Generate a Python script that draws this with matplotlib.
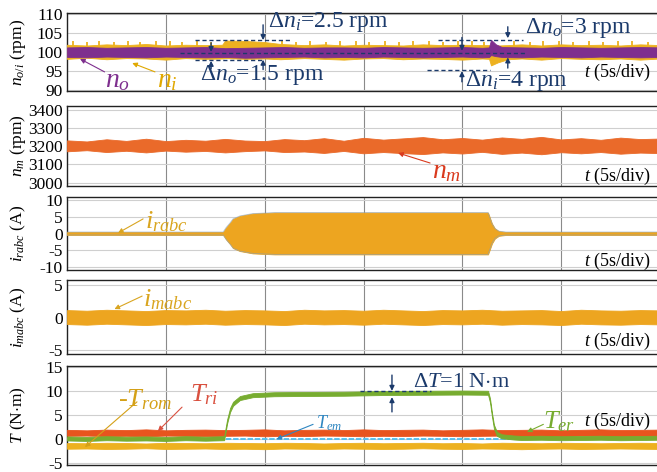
import numpy as np
import matplotlib
matplotlib.use('Agg')
import matplotlib.pyplot as plt

plt.rcParams['font.family'] = ['Liberation Serif', 'DejaVu Serif']
plt.rcParams['mathtext.fontset'] = 'custom'
plt.rcParams['mathtext.rm'] = 'Liberation Serif'
plt.rcParams['mathtext.it'] = 'Liberation Serif:italic'
plt.rcParams['mathtext.bf'] = 'Liberation Serif:bold'

# ---------------- data ----------------
# panel 1 : n_i (input speed) envelope
t_ni = [0, 1, 2, 3, 4, 5, 6, 7, 7.85, 8.0, 9.0, 10.0, 10.8, 12, 13, 14, 15, 16, 17, 18,
        19, 20, 21, 21.35, 21.45, 21.8, 22.3, 23, 24, 25, 26, 27, 28, 29, 30]
ni_hi = [101.9, 101.7, 102.0, 101.8, 102.1, 101.7, 101.9, 101.8, 101.9, 103.0, 102.9, 102.6,
         102.1, 101.8, 102.0, 101.7, 101.9, 101.8, 101.7, 102.0, 101.8, 101.9, 101.8, 101.8,
         101.6, 101.7, 101.8, 102.0, 101.7, 102.0, 101.8, 101.9, 101.7, 102.0, 101.8]
ni_lo = [98.2, 98.5, 98.1, 98.4, 98.3, 98.0, 98.4, 98.2, 98.3, 98.4, 98.2, 98.3, 98.1, 98.4,
         98.2, 98.0, 98.3, 98.4, 98.1, 98.3, 98.2, 98.0, 98.3, 98.2, 96.5, 97.3, 98.1, 98.3,
         98.0, 98.4, 98.2, 98.1, 98.3, 98.0, 98.3]
# n_i upward noise spikes
ni_spk_t = [0.3, 1.0, 1.6, 2.4, 3.1, 3.7, 4.5, 5.2, 5.8, 6.6, 7.3, 10.9, 11.6, 12.3, 13.1,
            13.8, 14.6, 15.3, 16.1, 16.8, 17.5, 18.3, 19.0, 19.8, 20.5, 21.1, 22.6, 23.4,
            24.1, 24.9, 25.6, 26.4, 27.1, 27.9, 28.6, 29.4]
ni_spk_v = [102.8, 102.6, 103.0, 102.7, 102.9, 102.6, 102.8, 103.0, 102.7, 102.9, 102.6,
            102.9, 102.7, 103.0, 102.6, 102.8, 102.9, 102.7, 103.0, 102.6, 102.8, 102.9,
            102.7, 103.0, 102.8, 102.6, 102.9, 102.7, 103.0, 102.8, 102.6, 102.9, 102.7,
            103.0, 102.8, 102.7]
# panel 1 : n_o (output speed) envelope
t_no = [0, 1, 2, 3, 4, 5, 6, 7, 8, 9, 10, 11, 12, 13, 14, 15, 16, 17, 18, 19, 20, 21,
        21.35, 21.45, 21.7, 22.0, 23, 24, 25, 26, 27, 28, 29, 30]
no_hi = [101.2, 101.3, 101.1, 101.2, 101.3, 101.1, 101.2, 101.3, 101.0, 101.1, 101.2, 101.3,
         101.1, 101.2, 101.2, 101.1, 101.3, 101.2, 101.1, 101.2, 101.3, 101.1,
         101.2, 103.2, 102.0, 101.3, 101.2, 101.1, 101.3, 101.2, 101.1, 101.2, 101.3, 101.2]
no_lo = [98.7, 98.6, 98.8, 98.7, 98.6, 98.8, 98.7, 98.6, 98.7, 98.5, 98.6, 98.7, 98.8, 98.6,
         98.7, 98.6, 98.8, 98.7, 98.6, 98.7, 98.8, 98.6,
         98.7, 99.2, 98.9, 98.7, 98.6, 98.8, 98.7, 98.6, 98.8, 98.7, 98.6, 98.7]

# panel 2 : n_m
t_sec = list(range(31))
nm_hi = [3232, 3226, 3238, 3229, 3241, 3228, 3235, 3230, 3240, 3231, 3228, 3239, 3233, 3244,
         3230, 3246, 3236, 3243, 3250, 3238, 3245, 3236, 3248, 3240, 3251, 3237, 3244, 3235,
         3247, 3239, 3242]
nm_lo = [3172, 3178, 3168, 3175, 3166, 3176, 3170, 3174, 3166, 3173, 3177, 3168, 3171, 3163,
         3174, 3161, 3168, 3162, 3157, 3166, 3160, 3169, 3158, 3165, 3156, 3167, 3161, 3168,
         3159, 3165, 3162]

# panel 3 : i_rabc envelope amplitude
t_ir = [0, 7.9, 8.05, 8.25, 8.4, 8.75, 9.4, 10.5, 14, 18, 21.3, 21.38, 21.5, 21.65, 21.85,
        22.2, 30]
ir_amp = [0.45, 0.45, 1.8, 3.2, 4.4, 5.3, 6.0, 6.3, 6.3, 6.3, 6.3, 5.0, 3.0, 1.5, 0.7, 0.45,
          0.45]

# panel 4 : i_mabc
im_hi = [1.15, 1.05, 1.2, 1.1, 1.0, 1.15, 1.1, 1.2, 1.05, 1.15, 1.1, 1.0, 1.2, 1.1, 1.15,
         1.05, 1.2, 1.1, 1.0, 1.15, 1.1, 1.2, 1.05, 1.1, 1.15, 1.0, 1.2, 1.1, 1.05, 1.15, 1.1]
im_lo = [-1.0, -1.1, -0.95, -1.05, -1.15, -1.0, -1.05, -0.95, -1.1, -1.0, -1.05, -1.15,
         -0.95, -1.05, -1.0, -1.1, -0.95, -1.05, -1.15, -1.0, -1.05, -0.95, -1.1, -1.0, -1.05,
         -1.15, -0.95, -1.05, -1.1, -1.0, -1.05]

# panel 5 : torques
tri_hi = [1.85, 1.75, 1.9, 1.8, 1.95, 1.75, 1.85, 1.9, 1.8, 1.85, 1.95, 1.75, 1.85, 1.9,
          1.8, 1.95, 1.8, 1.85, 1.9, 1.75, 1.85, 1.95, 1.8, 1.85, 1.9, 1.75, 1.85, 1.95,
          1.8, 1.85, 1.9]
tri_lo = [0.6, 0.65, 0.55, 0.6, 0.5, 0.65, 0.6, 0.55, 0.6, 0.65, 0.5, 0.6, 0.55, 0.65, 0.6,
          0.5, 0.6, 0.55, 0.65, 0.6, 0.5, 0.6, 0.65, 0.55, 0.6, 0.5, 0.65, 0.6, 0.55, 0.6,
          0.6]
trom_hi = [-0.9, -0.95, -0.85, -0.9, -1.0, -0.85, -0.9, -0.95, -0.85, -0.9, -0.95, -0.85,
           -0.9, -1.0, -0.9, -0.85, -0.95, -0.9, -0.85, -0.95, -0.9, -1.0, -0.85, -0.9,
           -0.95, -0.85, -0.9, -0.95, -0.9, -0.85, -0.9]
trom_lo = [-2.1, -2.05, -2.15, -2.1, -2.0, -2.15, -2.1, -2.05, -2.15, -2.1, -2.2, -2.05,
           -2.1, -2.15, -2.05, -2.1, -2.15, -2.1, -2.0, -2.1, -2.15, -2.05, -2.1, -2.2,
           -2.1, -2.05, -2.15, -2.1, -2.05, -2.1, -2.15]
t_te = [0, 1, 2, 3, 4, 5, 6, 7, 7.95, 8.1, 8.25, 8.4, 8.75, 9.4, 10.5, 12, 14, 16, 18, 20,
        21.3, 21.4, 21.5, 21.6, 21.75, 22.0, 22.6, 23, 24, 25, 26, 27, 28, 29, 30]
te_c = [0.05, -0.05, 0.1, 0.0, 0.05, -0.05, 0.1, 0.0, 0.1, 3.6, 6.0, 7.3, 8.5, 9.1, 9.3,
        9.35, 9.4, 9.55, 9.6, 9.65, 9.6, 8.0, 5.0, 2.5, 1.0, 0.5, 0.25, 0.15, 0.2, 0.1,
        0.15, 0.2, 0.1, 0.15, 0.2]
t_em = [0, 30]
tem_v = [-0.1, -0.1]

# y tick labels of the panels
yt1 = [90, 95, 100, 105, 110]
yt2 = [3000, 3100, 3200, 3300, 3400]
yt3 = [-10, -5, 0, 5, 10]
yt4 = [-5, 0, 5]
yt5 = [-5, 0, 5, 10, 15]

# ---------------- styling ----------------
PURPLE = '#7E2F8E'
YEL = '#EDB120'
ORANGE = '#EA6A2A'
IRAB = '#EDA520'
RED = '#E8541E'
GREEN = '#77AC30'
BLUE = '#4DBEEE'
NAVY = '#1B3A6B'

W, H = 657, 472
fig = plt.figure(figsize=(W / 100, H / 100), dpi=100)


def add_ax(top, bot):
    return fig.add_axes([67 / W, 1 - bot / H, 593 / W, (bot - top) / H])


ax1 = add_ax(13, 91)
ax2 = add_ax(106, 185.5)
ax3 = add_ax(197, 270)
ax4 = add_ax(280, 354)
ax5 = add_ax(366, 465)

# (axis, ylim, yticks, ylabel, vertical axes-fraction of the "t (5s/div)" note)
specs = [(ax1, (89.8, 110.2), yt1, r'$n_{o/i}$ (rpm)', 0.24),
         (ax2, (2985, 3420), yt2, r'$n_m$ (rpm)', 0.12),
         (ax3, (-11, 11), yt3, r'$i_{rabc}$ (A)', 0.12),
         (ax4, (-5.6, 5.77), yt4, r'$i_{mabc}$ (A)', 0.17),
         (ax5, (-5.5, 15.2), yt5, r'$T$ (N$\cdot$m)', 0.435)]
for ax, yl, yt, lab, tpos in specs:
    ax.set_xlim(0, 30)
    ax.set_ylim(*yl)
    ax.set_xticks([5, 10, 15, 20, 25])
    ax.set_xticklabels([])
    ax.set_yticks(yt)
    ax.set_yticklabels([str(v) for v in yt])
    ax.tick_params(axis='both', length=0, labelsize=12.5, pad=3)
    ax.grid(axis='y', color='#cfcfcf', lw=0.8)
    ax.grid(axis='x', color='#8a8a8a', lw=0.8)
    ax.set_axisbelow(True)
    for s in ax.spines.values():
        s.set_linewidth(1.0)
        s.set_color('#222222')
    ax.set_ylabel(lab, fontsize=12.5)
    ax.yaxis.set_label_coords(-0.066, 0.5)
    ax.text(26.15, yl[0] + tpos * (yl[1] - yl[0]), r'$t$ (5s/div)', fontsize=13,
            va='center', ha='left', zorder=10)


def band(ax, t, lo, hi, color, z, lw=0.6):
    ax.fill_between(t, lo, hi, color=color, edgecolor=color, lw=lw, zorder=z)


def arrow(ax, tip, tail, color, lw=0.8, ms=7):
    ax.annotate('', xy=tip, xytext=tail, zorder=12,
                arrowprops=dict(arrowstyle='-|>', color=color, lw=lw,
                                mutation_scale=ms, shrinkA=0, shrinkB=0))


def dash(ax, x0, x1, y):
    ax.plot([x0, x1], [y, y], color=NAVY, lw=1.0, ls=(0, (3, 2)), zorder=11)


# ---- panel 1
band(ax1, t_ni, ni_lo, ni_hi, YEL, 3)
ax1.vlines(ni_spk_t, 101.5, ni_spk_v, color=YEL, lw=1.3, zorder=3)
band(ax1, t_no, no_lo, no_hi, PURPLE, 4)
ax1.text(1.92, 92.6, r'$n_o$', fontsize=20, color=PURPLE, va='center', zorder=10)
ax1.text(4.55, 92.6, r'$n_i$', fontsize=20, color='#E0A800', va='center', zorder=10)
arrow(ax1, (0.66, 98.2), (1.9, 94.8), PURPLE)
arrow(ax1, (3.3, 97.1), (4.45, 94.8), '#E0A800')
dash(ax1, 6.48, 11.28, 103.1)
dash(ax1, 5.72, 23.27, 99.7)
dash(ax1, 6.48, 9.92, 97.9)
dash(ax1, 18.77, 23.07, 103.1)
dash(ax1, 18.2, 21.4, 95.3)
arrow(ax1, (7.29, 100.0), (7.29, 102.4), NAVY, lw=1.0)
arrow(ax1, (7.29, 97.7), (7.29, 95.6), NAVY, lw=1.0)
arrow(ax1, (9.92, 103.1), (9.92, 107.1), NAVY, lw=1.0)
arrow(ax1, (9.92, 98.0), (9.92, 95.4), NAVY, lw=1.0)
arrow(ax1, (19.98, 100.3), (19.98, 103.8), NAVY, lw=1.0)
arrow(ax1, (19.98, 95.0), (19.98, 92.2), NAVY, lw=1.0)
arrow(ax1, (22.3, 103.6), (22.3, 106.6), NAVY, lw=1.0)
arrow(ax1, (22.3, 98.6), (22.3, 95.8), NAVY, lw=1.0)
ax1.text(10.17, 107.8, r'$\Delta n_i$=2.5 rpm', fontsize=17, color=NAVY, va='center', zorder=12)
ax1.text(6.73, 94.0, r'$\Delta n_o$=1.5 rpm', fontsize=17, color=NAVY, va='center', zorder=12)
ax1.text(23.17, 106.4, r'$\Delta n_o$=3 rpm', fontsize=17, color=NAVY, va='center', zorder=12)
ax1.text(20.14, 92.4, r'$\Delta n_i$=4 rpm', fontsize=17, color=NAVY, va='center', zorder=12)

# ---- panel 2
band(ax2, t_sec, nm_lo, nm_hi, ORANGE, 3)
ax2.text(18.47, 3059, r'$n_m$', fontsize=20, color='#D93A1E', va='center', zorder=10)
arrow(ax2, (16.75, 3163), (18.37, 3108), '#D93A1E')

# ---- panel 3
ir_amp_a = np.array(ir_amp)
band(ax3, t_ir, -ir_amp_a, ir_amp_a, IRAB, 3)
ax3.plot(t_ir, ir_amp_a, color='#7f9fc0', lw=0.6, alpha=0.6, zorder=4)
ax3.plot(t_ir, -ir_amp_a, color='#7f9fc0', lw=0.6, alpha=0.6, zorder=4)
ax3.text(3.95, 3.5, r'$i_{rabc}$', fontsize=19, color='#D9A520', va='center', zorder=10)
arrow(ax3, (2.58, 0.15), (3.85, 4.4), '#D9A520')

# ---- panel 4
band(ax4, t_sec, im_lo, im_hi, IRAB, 3)
ax4.text(3.85, 2.7, r'$i_{mabc}$', fontsize=19, color='#D9A520', va='center', zorder=10)
arrow(ax4, (2.4, 1.3), (3.8, 3.3), '#D9A520')

# ---- panel 5
band(ax5, t_sec, trom_lo, trom_hi, YEL, 3)
band(ax5, t_sec, tri_lo, tri_hi, RED, 4)
ax5.plot(t_em, tem_v, color=BLUE, lw=1.3, ls=(0, (3, 1)), zorder=5)
te_c_a = np.array(te_c)
band(ax5, t_te, te_c_a - 0.42, te_c_a + 0.42, GREEN, 6)
ax5.text(2.58, 8.1, r'-$T_{rom}$', fontsize=19, color='#D4A017', va='center', zorder=10)
ax5.text(6.22, 9.1, r'$T_{ri}$', fontsize=19, color='#D9503F', va='center', zorder=10)
ax5.text(12.6, 3.3, r'$T_{em}$', fontsize=13, color='#2E86C1', va='center', zorder=10)
ax5.text(24.1, 3.5, r'$T_{er}$', fontsize=19, color=GREEN, va='center', zorder=10)
arrow(ax5, (0.91, -1.75), (3.54, 7.7), '#D4A017')
arrow(ax5, (4.6, 1.6), (5.82, 6.6), '#D9503F')
arrow(ax5, (10.6, -0.1), (12.45, 3.0), '#2E86C1')
arrow(ax5, (23.27, 1.4), (24.1, 3.0), GREEN)
dash(ax5, 14.8, 18.4, 10.0)
arrow(ax5, (16.44, 10.0), (16.44, 13.3), NAVY, lw=1.0)
arrow(ax5, (16.44, 8.7), (16.44, 5.6), NAVY, lw=1.0)
ax5.text(17.5, 11.85, r'$\Delta T$=1 N$\cdot$m', fontsize=16, color=NAVY, va='center', zorder=12)

fig.savefig('out.png', dpi=100)
